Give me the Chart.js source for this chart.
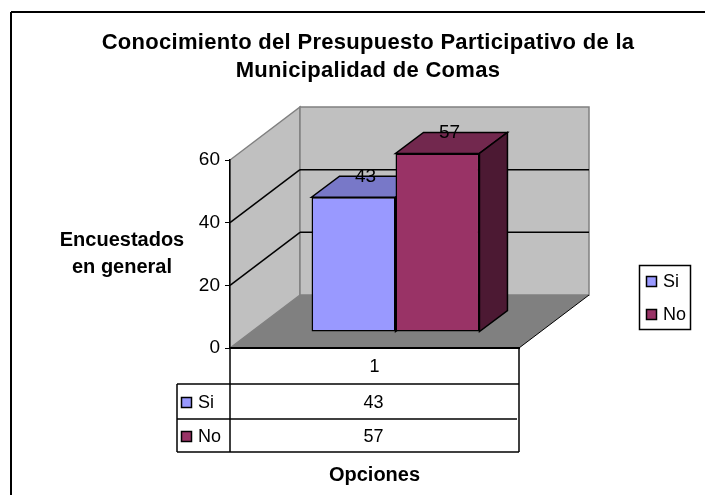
<!DOCTYPE html>
<html>
<head>
<meta charset="utf-8">
<style>
  html, body { margin: 0; padding: 0; background: #fff; }
  canvas { display: block; }
</style>
<script src="https://cdn.jsdelivr.net/npm/chart.js@4/dist/chart.umd.js"></script>
</head>
<body>
<canvas id="myChart" width="705" height="495"></canvas>
<script>
const categories = ['1'];
const seriesNames = ['Si', 'No'];
const siValues = [43];
const noValues = [57];
const yTicks = [0, 20, 40, 60];
const chartTitle = ['Conocimiento del Presupuesto Participativo de la', 'Municipalidad de Comas'];
const yAxisTitle = ['Encuestados', 'en general'];
const xAxisTitle = 'Opciones';

const FONT = '"Liberation Sans", Arial, sans-serif';
const colors = [
  { front: '#9999FF', top: '#7878C8', side: '#4C4C80' },
  { front: '#993366', top: '#72284E', side: '#4C1933' }
];
// 3D offsets, px
const wallDx = 70, wallDy = 53;   // depth of the floor
const barShiftX = 21, barShiftY = 16; // bars stand this far into the floor
const barDx = 28, barDy = 21;     // depth of a bar

function poly(ctx, pts, fill, stroke, lw) {
  ctx.beginPath();
  pts.forEach((p, i) => i ? ctx.lineTo(p[0], p[1]) : ctx.moveTo(p[0], p[1]));
  ctx.closePath();
  if (fill) { ctx.fillStyle = fill; ctx.fill(); }
  if (stroke) { ctx.strokeStyle = stroke; ctx.lineWidth = lw || 1; ctx.stroke(); }
}

function line(ctx, x1, y1, x2, y2, color, lw) {
  ctx.beginPath();
  ctx.moveTo(x1, y1);
  ctx.lineTo(x2, y2);
  ctx.strokeStyle = color || '#000';
  ctx.lineWidth = lw || 1;
  ctx.stroke();
}

function text(ctx, str, x, y, font, align) {
  ctx.font = font;
  ctx.fillStyle = '#000';
  ctx.textAlign = align || 'center';
  ctx.textBaseline = 'middle';
  ctx.fillText(str, x, y);
}

const walls = {
  id: 'walls',
  beforeDraw(chart) {
    const ctx = chart.ctx, y = chart.scales.y, a = chart.chartArea;
    const y0 = y.getPixelForValue(0), yMax = y.getPixelForValue(60);
    ctx.save();
    // outer frame, cut off by the picture on the right and bottom
    ctx.fillStyle = '#fff';
    ctx.fillRect(0, 0, chart.width, chart.height);
    line(ctx, 11, 12, chart.width, 12, '#000', 2);
    line(ctx, 11, 12, 11, chart.height, '#000', 2);
    // side wall, back wall, floor
    poly(ctx, [[a.left, y0], [a.left + wallDx, y0 - wallDy], [a.left + wallDx, yMax - wallDy], [a.left, yMax]], '#C0C0C0', '#808080', 1.5);
    poly(ctx, [[a.left + wallDx, y0 - wallDy], [a.right + wallDx, y0 - wallDy], [a.right + wallDx, yMax - wallDy], [a.left + wallDx, yMax - wallDy]], '#C0C0C0', '#808080', 1.5);
    poly(ctx, [[a.left, y0], [a.right, y0], [a.right + wallDx, y0 - wallDy], [a.left + wallDx, y0 - wallDy]], '#808080');
    line(ctx, a.right, y0, a.right + wallDx, y0 - wallDy, '#000', 1);
    // gridlines run along the side wall and the back wall
    yTicks.slice(1, -1).forEach(v => {
      const py = y.getPixelForValue(v);
      line(ctx, a.left, py, a.left + wallDx, py - wallDy, '#000', 1.5);
      line(ctx, a.left + wallDx, py - wallDy, a.right + wallDx, py - wallDy, '#000', 1.5);
    });
    ctx.restore();
  }
};

const bars3d = {
  id: 'bars3d',
  beforeDatasetsDraw(chart) {
    const ctx = chart.ctx;
    ctx.save();
    ctx.translate(barShiftX, -barShiftY);
    chart.data.datasets.forEach((ds, i) => {
      chart.getDatasetMeta(i).data.forEach(bar => {
        const l = bar.x - bar.width / 2, r = bar.x + bar.width / 2;
        poly(ctx, [[l, bar.y], [r, bar.y], [r + barDx, bar.y - barDy], [l + barDx, bar.y - barDy]], colors[i].top, '#000', 1.5);
        poly(ctx, [[r, bar.y], [r + barDx, bar.y - barDy], [r + barDx, bar.base - barDy], [r, bar.base]], colors[i].side, '#000', 1.5);
      });
    });
    // the fronts drawn by Chart.js land on the same shifted position
  },
  afterDatasetsDraw(chart) {
    const ctx = chart.ctx;
    ctx.restore();
    chart.data.datasets.forEach((ds, i) => {
      chart.getDatasetMeta(i).data.forEach((bar, j) => {
        text(ctx, String(ds.data[j]), bar.x + barShiftX + 12, bar.y - barShiftY - barDy, '19px ' + FONT);
      });
    });
  }
};

const extras = {
  id: 'extras',
  afterDraw(chart) {
    const ctx = chart.ctx, a = chart.chartArea;
    const tableLeft = 177, rows = [384, 419, 452];
    ctx.save();
    // chart title
    ctx.letterSpacing = '0.3px';
    chartTitle.forEach((t, i) => text(ctx, t, 368, 43 + i * 28, 'bold 22px ' + FONT));
    ctx.letterSpacing = '0px';
    // data table
    line(ctx, a.left, a.bottom, a.left, rows[2], '#000', 1.5);
    line(ctx, a.right, a.bottom, a.right, rows[2], '#000', 1.5);
    line(ctx, tableLeft, rows[0], tableLeft, rows[2], '#000', 1.5);
    line(ctx, tableLeft, rows[0], a.right, rows[0], '#000', 1.5);
    line(ctx, tableLeft, rows[1], a.right - 2, rows[1], '#000', 1.5);
    line(ctx, tableLeft, rows[2], a.right, rows[2], '#000', 1.5);
    const tableValues = [siValues, noValues];
    seriesNames.forEach((name, i) => {
      const cy = [403, 437][i];
      ctx.fillStyle = colors[i].front;
      ctx.fillRect(181.5, cy - 5.5, 10, 10);
      ctx.strokeStyle = '#000';
      ctx.lineWidth = 1.5;
      ctx.strokeRect(181.5, cy - 5.5, 10, 10);
      text(ctx, name, 198, cy, '18px ' + FONT, 'left');
      text(ctx, String(tableValues[i][0]), (a.left + a.right) / 2 - 1, cy, '18px ' + FONT);
    });
    // y axis title
    yAxisTitle.forEach((t, i) => text(ctx, t, 122, 240 + i * 27, 'bold 20px ' + FONT));
    // legend
    ctx.strokeStyle = '#000';
    ctx.lineWidth = 1.5;
    ctx.strokeRect(639.5, 265.5, 51, 64);
    seriesNames.forEach((name, i) => {
      const cy = [282, 315][i];
      ctx.fillStyle = colors[i].front;
      ctx.fillRect(646.5, cy - 5.5, 10, 10);
      ctx.strokeStyle = '#000';
      ctx.lineWidth = 1.5;
      ctx.strokeRect(646.5, cy - 5.5, 10, 10);
      text(ctx, name, 663, cy, '18px ' + FONT, 'left');
    });
    ctx.restore();
  }
};

const ctx = document.getElementById('myChart');
const myChart = new Chart(ctx, {
  type: 'bar',
  data: {
    labels: categories,
    datasets: [
      { label: seriesNames[0], data: siValues, backgroundColor: colors[0].front },
      { label: seriesNames[1], data: noValues, backgroundColor: colors[1].front }
    ]
  },
  options: {
    responsive: false,
    animation: false,
    layout: { padding: { left: 0, right: 186, top: 160, bottom: 0 } },
    datasets: {
      bar: { borderColor: '#000', borderWidth: 1.5, borderSkipped: false, barPercentage: 1, categoryPercentage: 0.581 }
    },
    scales: {
      y: {
        min: 0,
        max: 60,
        afterFit: axis => { axis.width = 230; },
        ticks: { stepSize: 20, padding: 5, color: '#000', font: { family: FONT, size: 19 } },
        grid: { drawOnChartArea: false, tickLength: 5, tickColor: '#000' },
        border: { color: '#000', width: 1.5 }
      },
      x: {
        afterFit: axis => { axis.height = 147; },
        grid: { display: false },
        border: { color: '#000', width: 2 },
        ticks: { padding: 0, color: '#000', font: { family: FONT, size: 18 } },
        title: { display: true, text: xAxisTitle, color: '#000', padding: { top: 0, bottom: 8 }, font: { family: FONT, size: 20, weight: 'bold' } }
      }
    },
    plugins: {
      legend: { display: false },
      tooltip: { enabled: false }
    }
  },
  plugins: [walls, bars3d, extras]
});
</script>
</body>
</html>
